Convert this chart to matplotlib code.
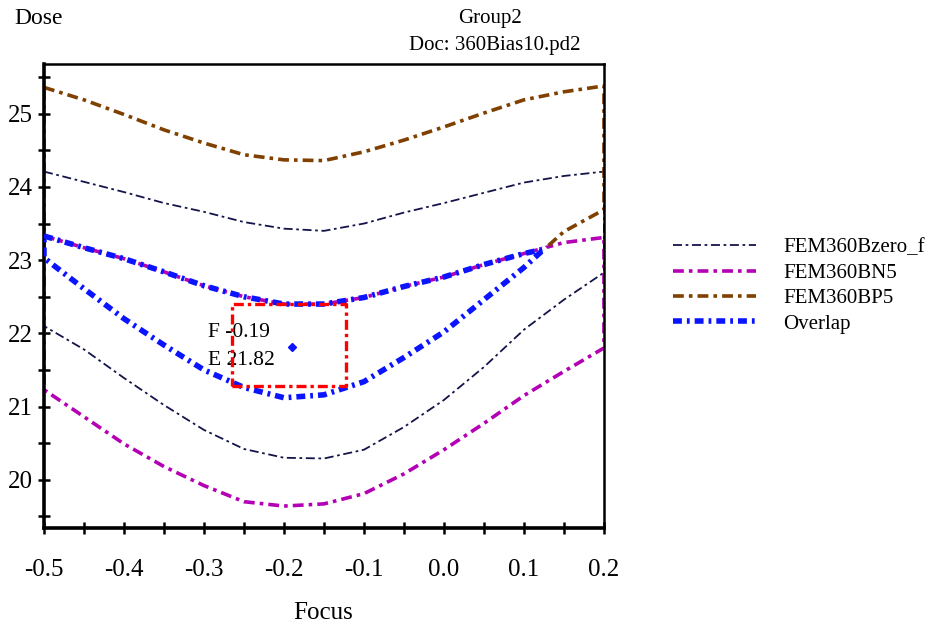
import matplotlib.pyplot as plt
import numpy as np

plt.rcParams['font.family'] = ['Liberation Serif', 'DejaVu Serif']

# focus grid, -0.5 .. 0.2
focus = [-0.5, -0.45, -0.4, -0.35, -0.3, -0.25, -0.2, -0.15, -0.1, -0.05, 0.0, 0.05, 0.1, 0.15, 0.2]

# FEM360Bzero_f contour (upper / lower edge)
bzero_hi = [24.21, 24.07, 23.93, 23.78, 23.66, 23.52, 23.43, 23.40, 23.50, 23.65, 23.78, 23.92, 24.06, 24.15, 24.21]
bzero_lo = [22.10, 21.78, 21.39, 21.02, 20.68, 20.42, 20.30, 20.29, 20.41, 20.72, 21.09, 21.54, 22.05, 22.46, 22.83]

# FEM360BN5
bn5_hi = [23.33, 23.17, 23.02, 22.84, 22.65, 22.50, 22.40, 22.40, 22.49, 22.64, 22.77, 22.94, 23.09, 23.24, 23.31]
bn5_lo = [21.23, 20.86, 20.49, 20.18, 19.92, 19.70, 19.64, 19.67, 19.81, 20.08, 20.41, 20.77, 21.15, 21.48, 21.80]

# FEM360BP5
bp5_hi = [25.36, 25.19, 24.99, 24.78, 24.60, 24.44, 24.37, 24.36, 24.48, 24.64, 24.82, 25.01, 25.19, 25.30, 25.38]
bp5_lo = [23.03, 22.61, 22.20, 21.84, 21.50, 21.26, 21.12, 21.16, 21.34, 21.67, 22.02, 22.46, 22.90, 23.39, 23.69]

# Overlap window
ov_focus = [-0.5, -0.45, -0.4, -0.35, -0.3, -0.25, -0.2, -0.15, -0.1, -0.05, 0.0, 0.05, 0.1, 0.125]
ov_hi = [23.33, 23.17, 23.02, 22.84, 22.65, 22.50, 22.40, 22.40, 22.49, 22.64, 22.77, 22.94, 23.09, 23.15]
ov_lo = [23.03, 22.61, 22.20, 21.84, 21.50, 21.26, 21.12, 21.16, 21.34, 21.67, 22.02, 22.46, 22.90, 23.15]

# process window box and centre
box_f = [-0.265, -0.1225]
box_e = [21.28, 22.40]
best_f = -0.19
best_e = 21.82


def loop(xs, hi, lo):
    x = np.concatenate([xs, xs[::-1], xs[:1]])
    y = np.concatenate([hi, lo[::-1], hi[:1]])
    return x, y


fig = plt.figure(figsize=(9.48, 6.26), dpi=100)
ax = fig.add_axes([0.0464, 0.1565, 0.5907, 0.7413])

x, y = loop(focus, bzero_hi, bzero_lo)
l_bz, = ax.plot(x, y, color='#14144a', lw=1.3, dashes=(5, 2, 1.5, 2))
x, y = loop(focus, bn5_hi, bn5_lo)
l_bn5, = ax.plot(x, y, color='#b400b4', lw=2.6, dashes=(3, 1.4, 1, 1.4), zorder=2)
x, y = loop(focus, bp5_hi, bp5_lo)
l_bp5, = ax.plot(x, y, color='#804000', lw=2.6, dashes=(3, 1.4, 1, 1.4), zorder=2)
# overlap sits on the BP5 lower edge, hide that one underneath
ax.plot(ov_focus, ov_lo, color='white', lw=4.0, zorder=2.5)
x, y = loop(ov_focus, ov_hi, ov_lo)
l_ov, = ax.plot(x, y, color='#0a14ff', lw=4.0, dashes=(1.6, 0.9, 0.5, 0.9), zorder=3)

# box
bx = [box_f[0], box_f[1], box_f[1], box_f[0], box_f[0]]
by = [box_e[0], box_e[0], box_e[1], box_e[1], box_e[0]]
ax.plot(bx, by, color='#ff0000', lw=2.4, dashes=(3, 1.2, 1, 1.2), zorder=4)
ax.plot([best_f], [best_e], marker='D', ms=4, color='#0a14ff', zorder=5)
ax.text(-0.295, 22.01, 'F -0.19', fontsize=15.5, va='center', ha='left')
ax.text(-0.295, 21.63, 'E 21.82', fontsize=15.5, va='center', ha='left')

ax.set_xlim(-0.5, 0.2)
ax.set_ylim(19.34, 25.68)
ax.set_xticks([-0.5, -0.4, -0.3, -0.2, -0.1, 0.0, 0.1, 0.2])
ax.set_xticklabels(['-0.5', '-0.4', '-0.3', '-0.2', '-0.1', '0.0', '0.1', '0.2'])
ax.set_xticks(np.arange(-0.45, 0.2, 0.1), minor=True)
ax.set_yticks([20, 21, 22, 23, 24, 25])
ax.set_yticks(np.arange(19.5, 25.6, 1.0), minor=True)
ax.tick_params(which='both', direction='inout', length=8, width=1.8, labelsize=18)
ax.tick_params(axis='x', pad=18)
ax.tick_params(axis='y', pad=4)
ax.spines['left'].set_linewidth(2.6)
ax.spines['bottom'].set_linewidth(2.6)
ax.spines['top'].set_linewidth(1.8)
ax.spines['right'].set_linewidth(1.8)

fig.legend([l_bz, l_bn5, l_bp5, l_ov], ['FEM360Bzero_f', 'FEM360BN5', 'FEM360BP5', 'Overlap'],
           loc='upper left', bbox_to_anchor=(0.69, 0.65), frameon=False,
           fontsize=15, handlelength=4.0, handletextpad=1.3, labelspacing=0.28)

fig.text(0.015, 0.97, 'Dose', fontsize=17, va='center', ha='left')
fig.text(0.517, 0.97, 'Group2', fontsize=15, va='center', ha='center')
fig.text(0.522, 0.927, 'Doc: 360Bias10.pd2', fontsize=15, va='center', ha='center')
fig.text(0.341, 0.02, 'Focus', fontsize=18, va='center', ha='center')

fig.savefig('out.png', dpi=100)
